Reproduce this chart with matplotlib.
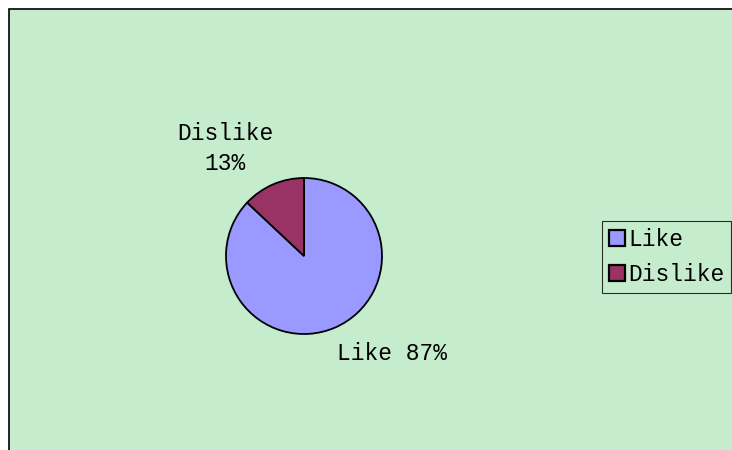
import matplotlib
matplotlib.use("Agg")
import matplotlib.pyplot as plt
from matplotlib.patches import Rectangle

# data
labels = ['Like', 'Dislike']
shares = [87, 13]
colors = ['#9999FF', '#993366']

W, H = 732, 450
cx, cy, R = 304, 256, 78  # pie centre / radius in pixels

plt.rcParams['font.family'] = ['Liberation Mono', 'DejaVu Sans Mono']

fig = plt.figure(figsize=(W / 100, H / 100), dpi=100)
fig.patch.set_facecolor('white')
fig.patches.append(Rectangle((9 / W, -0.01), 1.0, 1 - 9 / H + 0.01,
                             transform=fig.transFigure, facecolor='#C6ECCE',
                             edgecolor='black', linewidth=1.2, zorder=-5))

ax = fig.add_axes([0, 0, 1, 1])
ax.set_zorder(2)

wedges, _ = ax.pie(shares, colors=colors, startangle=90, counterclock=False,
                   radius=1, wedgeprops=dict(edgecolor='black', linewidth=1.3))
# pie() resets the limits, so set them afterwards
ax.set_xlim(-cx / R, (W - cx) / R)
ax.set_ylim(-(H - cy) / R, cy / R)
ax.axis('off')

ax.text(-1.01, 1.38, f'{labels[1]}\n{shares[1]}%', ha='center', va='center',
        fontsize=16.5, linespacing=1.35)
ax.text(1.13, -1.25, f'{labels[0]} {shares[0]}%', ha='center', va='center',
        fontsize=16.5)

leg = fig.legend(wedges, labels, loc='center left',
                 bbox_to_anchor=(602 / W, 1 - 257 / H), fontsize=16.5,
                 frameon=True, fancybox=False, handlelength=0.7,
                 handleheight=0.7, handletextpad=0.15, borderpad=0.3,
                 labelspacing=0.5, borderaxespad=0)
leg.get_frame().set_edgecolor('black')
leg.get_frame().set_facecolor('#C6ECCE')
leg.get_frame().set_linewidth(0.8)
leg.set_zorder(3)
for h in leg.legend_handles:
    h.set_linewidth(1.6)

fig.savefig('out.png', dpi=100)
